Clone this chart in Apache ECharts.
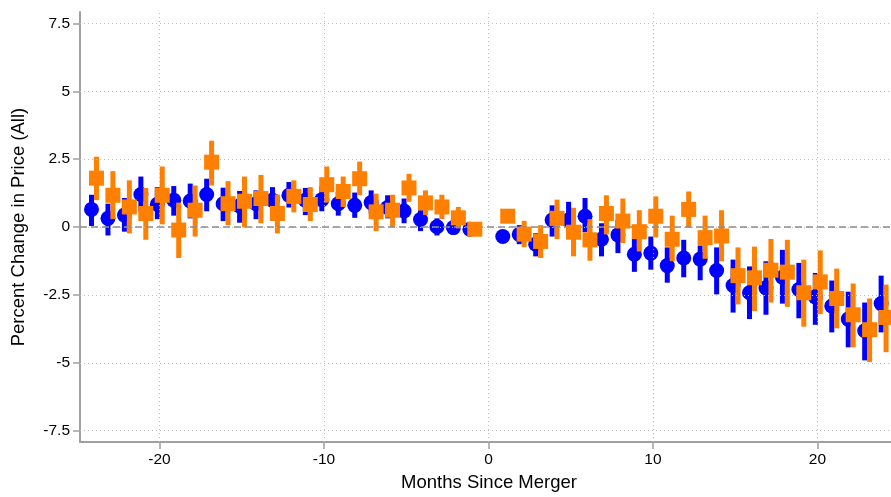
<!DOCTYPE html>
<html>
<head>
<meta charset="utf-8">
<script src="https://cdn.jsdelivr.net/npm/echarts@6/dist/echarts.min.js"></script>
<style>
html,body{margin:0;padding:0;background:#fff;}
#chart{width:891px;height:497px;}
</style>
</head>
<body>
<div id="chart"></div>
<script>
// ---- Data ----
const months = [-24,-23,-22,-21,-20,-19,-18,-17,-16,-15,-14,-13,-12,-11,-10,-9,-8,-7,-6,-5,-4,-3,-2,-1,
                1,2,3,4,5,6,7,8,9,10,11,12,13,14,15,16,17,18,19,20,21,22,23,24];

const blueEst = [0.65,0.32,0.44,1.20,0.84,0.99,0.96,1.20,0.86,0.78,0.86,0.99,1.17,0.99,1.01,0.86,0.80,0.90,0.72,0.59,0.28,0.01,-0.02,-0.08,
                 -0.35,-0.27,-0.63,0.26,0.26,0.40,-0.45,-0.29,-1.00,-0.96,-1.42,-1.14,-1.18,-1.60,-2.15,-2.42,-2.24,-1.85,-2.30,-2.57,-2.91,-3.39,-3.82,-2.82];
const blueLo  = [0.04,-0.31,-0.17,0.58,0.29,0.42,0.32,0.58,0.22,0.16,0.29,0.38,0.72,0.44,0.58,0.42,0.34,0.50,0.32,0.14,-0.15,-0.31,-0.27,-0.20,
                 -0.45,-0.63,-1.08,-0.35,-0.29,-0.19,-1.08,-0.96,-1.65,-1.57,-2.05,-1.85,-1.96,-2.48,-3.15,-3.39,-3.23,-2.82,-3.36,-3.60,-3.88,-4.43,-4.91,-3.88];
const blueHi  = [1.19,0.86,1.07,1.86,1.47,1.51,1.60,1.78,1.45,1.33,1.35,1.47,1.66,1.44,1.50,1.29,1.27,1.35,1.17,1.05,0.62,0.32,0.25,0.05,
                 -0.25,0.07,-0.23,0.80,0.93,1.07,0.14,0.26,-0.41,-0.35,-0.75,-0.47,-0.68,-0.75,-1.20,-1.45,-1.26,-0.84,-1.32,-1.69,-1.97,-2.38,-2.78,-1.79];

const orangeEst = [1.80,1.17,0.74,0.50,1.17,-0.11,0.62,2.39,0.86,0.95,1.05,0.50,1.13,0.83,1.56,1.31,1.78,0.56,0.62,1.44,0.89,0.74,0.34,-0.08,
                   0.40,-0.26,-0.53,0.32,-0.19,-0.47,0.50,0.22,-0.17,0.40,-0.45,0.65,-0.39,-0.33,-1.79,-1.87,-1.59,-1.66,-2.42,-2.02,-2.63,-3.23,-3.78,-3.33];
const orangeLo  = [0.99,0.29,-0.23,-0.47,0.10,-1.14,-0.35,1.53,0.07,-0.01,0.14,-0.23,0.54,0.22,0.90,0.74,1.17,-0.15,-0.01,0.93,0.44,0.29,-0.05,-0.15,
                   0.30,-0.74,-1.14,-0.44,-1.08,-1.24,-0.27,-0.59,-0.90,-0.38,-1.26,-0.02,-1.17,-1.26,-2.85,-3.09,-2.78,-2.94,-3.67,-3.21,-3.73,-4.43,-4.97,-4.61];
const orangeHi  = [2.59,2.06,1.72,1.44,2.23,0.90,1.53,3.18,1.69,1.86,1.92,1.20,1.72,1.47,2.23,1.86,2.41,1.23,1.19,1.96,1.35,1.19,0.74,0.00,
                   0.50,0.23,0.07,1.01,0.71,0.29,1.17,1.05,0.62,1.13,0.42,1.31,0.42,0.62,-0.75,-0.72,-0.44,-0.47,-1.20,-0.86,-1.53,-2.08,-2.63,-2.12];

const xTicks = [-20,-10,0,10,20];
const yTicks = [-7.5,-5,-2.5,0,2.5,5,7.5];

// ---- Styling / layout ----
const BLUE = '#0000ff';
const ORANGE = '#ff8000';
const blueShift = -0.13, orangeShift = 0.17;
const FONT = '"Liberation Sans", Arial, sans-serif';

function pts(shift, est){ return months.map((m,i)=>[m+shift, est[i]]); }
function bars(shift, lo, hi){ return months.map((m,i)=>[m+shift, lo[i], hi[i]]); }
function barRenderer(color, w){
  return function(params, api){
    const x = api.value(0);
    const top = api.coord([x, api.value(2)]);
    const bot = api.coord([x, api.value(1)]);
    return {type:'rect', shape:{x: top[0]-w/2, y: top[1], width: w, height: bot[1]-top[1]}, style:{fill: color}};
  };
}

const gridLines = xTicks.map(v=>({xAxis:v})).concat(yTicks.map(v=>({yAxis:v})));

const chart = echarts.init(document.getElementById('chart'), null, {renderer:'canvas'});
chart.setOption({
  animation:false,
  backgroundColor:'#fff',
  grid:{left:80, right:0, top:12, bottom:51, containLabel:false},
  xAxis:{
    type:'value', min:-24.83, max:24.47,
    name:'Months Since Merger', nameLocation:'middle', nameGap:30,
    nameTextStyle:{fontFamily:FONT, fontSize:18.5, color:'#000', padding:[0,0,0,7]},
    axisLine:{show:true, onZero:false, lineStyle:{color:'#a0a0a0', width:2}},
    axisTick:{show:true, length:7, customValues:xTicks, lineStyle:{color:'#a0a0a0', width:1.5}},
    axisLabel:{customValues:xTicks, margin:10, fontFamily:FONT, fontSize:15.5, color:'#000'},
    splitLine:{show:false}
  },
  yAxis:{
    type:'value', min:-7.92, max:7.92,
    name:'Percent Change in Price (All)', nameLocation:'middle', nameGap:52,
    nameTextStyle:{fontFamily:FONT, fontSize:18.5, color:'#000'},
    axisLine:{show:true, onZero:false, lineStyle:{color:'#a0a0a0', width:2}},
    axisTick:{show:true, length:7, customValues:yTicks, lineStyle:{color:'#a0a0a0', width:1.5}},
    axisLabel:{customValues:yTicks, margin:10, fontFamily:FONT, fontSize:15.5, color:'#000'},
    splitLine:{show:false}
  },
  series:[
    {
      type:'scatter', data:[], z:1, silent:true,
      markLine:{
        silent:true, symbol:'none', animation:false,
        label:{show:false},
        lineStyle:{color:'#bdbdbd', width:1, type:[1,3]},
        data:gridLines
      }
    },
    {
      type:'scatter', data:[], z:1, silent:true,
      markLine:{
        silent:true, symbol:'none', animation:false,
        label:{show:false},
        lineStyle:{color:'#8c8c8c', width:1.5, type:[7,4]},
        data:[{yAxis:0}]
      }
    },
    {type:'custom', z:2, clip:false, renderItem:barRenderer(BLUE, 5), data:bars(blueShift, blueLo, blueHi), encode:{x:0,y:[1,2]}},
    {type:'scatter', z:3, clip:false, symbol:'circle', symbolSize:15, itemStyle:{color:BLUE, opacity:1}, data:pts(blueShift, blueEst)},
    {type:'custom', z:4, clip:false, renderItem:barRenderer(ORANGE, 5), data:bars(orangeShift, orangeLo, orangeHi), encode:{x:0,y:[1,2]}},
    {type:'scatter', z:5, clip:false, symbol:'rect', symbolSize:15, itemStyle:{color:ORANGE, opacity:1}, data:pts(orangeShift, orangeEst)}
  ]
});
</script>
</body>
</html>
